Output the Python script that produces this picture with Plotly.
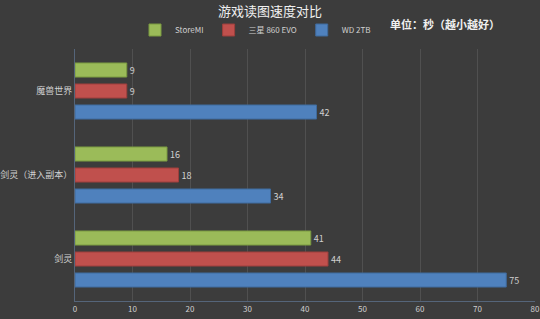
import plotly.graph_objects as go

categories = ["魔兽世界", "剑灵（进入副本）", "剑灵"]
storemi = [9, 16, 41]
samsung = [9, 18, 44]
wd = [42, 34, 75]
x_ticks = [0, 10, 20, 30, 40, 50, 60, 70, 80]

font = "Noto Sans CJK SC, Noto Sans, sans-serif"
cats_rev = categories[::-1]

fig = go.Figure()
for name, vals, color, line in [
    ("WD 2TB", wd, "#4f81bd", "#3f6a9c"),
    ("三星 860 EVO", samsung, "#c0504d", "#9c3f3c"),
    ("StoreMI", storemi, "#9bbb59", "#7a9a40"),
]:
    fig.add_trace(go.Bar(
        y=cats_rev, x=vals[::-1], name=name, orientation="h",
        marker=dict(color=color, line=dict(color=line, width=1)),
        text=[str(v) for v in vals[::-1]], textposition="outside",
        textfont=dict(color="#d0d0d0", size=9, family=font),
        cliponaxis=False,
    ))

fig.update_layout(
    width=540, height=319,
    paper_bgcolor="#3c3c3c", plot_bgcolor="#3c3c3c",
    margin=dict(l=75, r=5, t=49, b=18, autoexpand=False),
    barmode="group", bargap=0.25, bargroupgap=0.33,
    title=dict(text="游戏读图速度对比", x=0.5, xanchor="center",
               yref="container", y=1 - 11 / 319, yanchor="middle",
               font=dict(family=font, size=13, color="#f0f0f0")),
    legend=dict(orientation="h", x=(135 - 75) / 460, xanchor="left",
                y=(301 - 30) / 252, yanchor="middle",
                traceorder="reversed", font=dict(family=font, size=8, color="#d0d0d0"),
                itemwidth=30, entrywidth=0, entrywidthmode="pixels",
                bgcolor="rgba(0,0,0,0)", borderwidth=0),
    xaxis=dict(range=[0, 80], tickvals=x_ticks, showgrid=True, gridcolor="#505050",
               gridwidth=1, zeroline=False, showline=True, linecolor="#55657a",
               tickfont=dict(family=font, size=8, color="#d0d0d0"), ticks="",
               automargin=False),
    yaxis=dict(categoryorder="array", categoryarray=cats_rev, showline=True,
               linecolor="#55657a", showgrid=False, ticks="", automargin=False,
               tickfont=dict(family=font, size=9, color="#d0d0d0")),
    annotations=[dict(text="<b>单位：秒（越小越好）</b>", x=(445 - 75) / 460, y=(301 - 24) / 252,
                      xref="paper", yref="paper", xanchor="center", yanchor="middle",
                      showarrow=False, font=dict(family=font, size=11, color="#f0f0f0"))],
)
fig.write_html("out.html")
